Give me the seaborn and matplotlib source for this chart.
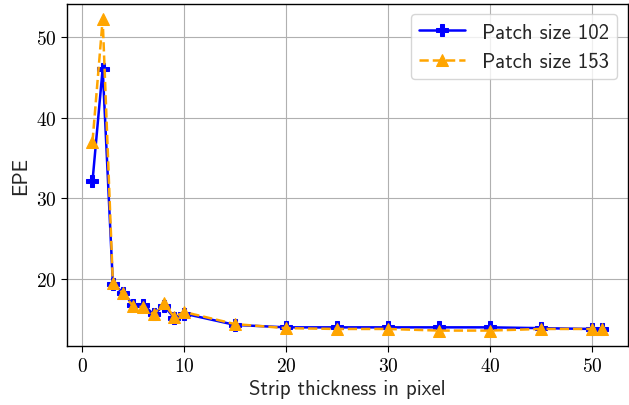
import matplotlib
matplotlib.use("Agg")
import matplotlib.pyplot as plt
import seaborn as sns
import pandas as pd

thickness = [1, 2, 3, 4, 5, 6, 7, 8, 9, 10, 15, 20, 25, 30, 35, 40, 45, 50, 51]
epe_102 = [32.1, 46.1, 19.4, 18.3, 16.8, 16.8, 15.6, 16.7, 15.2, 15.7, 14.3, 14.0, 14.0, 14.0, 14.0, 14.0, 13.9, 13.8, 13.8]
epe_153 = [37.0, 52.2, 19.5, 18.2, 16.6, 16.5, 15.6, 17.0, 15.3, 15.9, 14.4, 13.9, 13.8, 13.8, 13.6, 13.6, 13.8, 13.8, 13.8]
series_labels = ["Patch size 102", "Patch size 153"]

sns.set_style("ticks")
plt.rcParams["font.family"] = ["cmss10", "DejaVu Sans"]
plt.rcParams["axes.formatter.use_mathtext"] = True

df1 = pd.DataFrame({"x": thickness, "y": epe_102})
df2 = pd.DataFrame({"x": thickness, "y": epe_153})

fig, ax = plt.subplots(figsize=(6.29, 4.06), dpi=100)
sns.lineplot(data=df1, x="x", y="y", ax=ax, color="blue", marker="P", markersize=9,
             markeredgecolor="blue", linewidth=1.8, label=series_labels[0])
sns.lineplot(data=df2, x="x", y="y", ax=ax, color="orange", marker="^", markersize=9,
             markeredgecolor="orange", linewidth=1.8, linestyle="--", label=series_labels[1])

ax.grid(True, color="#b0b0b0", linewidth=0.8)
ax.set_xlabel("Strip thickness in pixel", fontsize=15, labelpad=3)
ax.set_ylabel("EPE", fontsize=15)
ax.set_yticks([20, 30, 40, 50])
ax.set_xticks([0, 10, 20, 30, 40, 50])
for lab in ax.get_xticklabels() + ax.get_yticklabels():
    lab.set_fontfamily("cmr10")
    lab.set_fontsize(14)
for sp in ax.spines.values():
    sp.set_color("black")
    sp.set_linewidth(1.0)
ax.tick_params(colors="black", length=4)
leg = ax.legend(loc="upper right", fontsize=15, frameon=True, handlelength=2.2)
leg.get_frame().set_edgecolor("#cccccc")
fig.subplots_adjust(left=0.1065, right=0.998, top=0.988, bottom=0.145)
fig.savefig("out.png", dpi=100)
